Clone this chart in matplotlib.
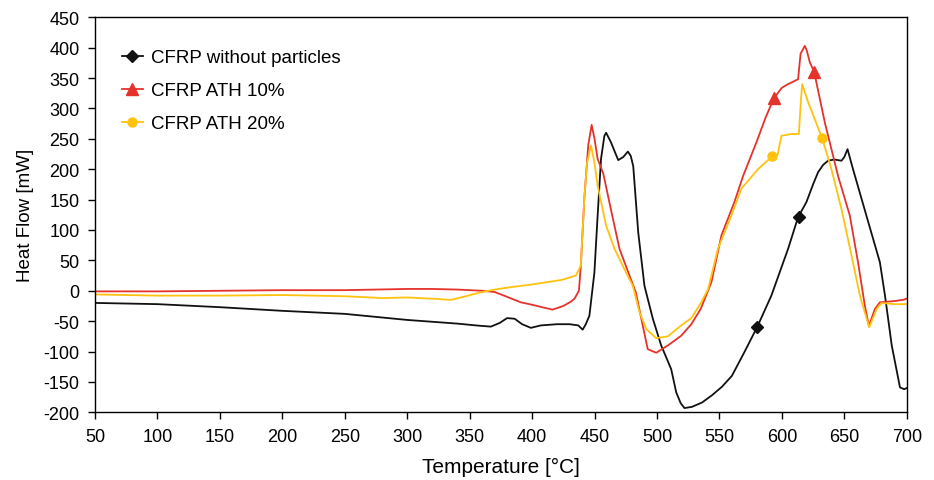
import matplotlib
matplotlib.use('Agg')
import matplotlib.pyplot as plt
from matplotlib.ticker import MultipleLocator

plt.rcParams['font.family'] = ['Liberation Sans', 'DejaVu Sans']
plt.rcParams['axes.unicode_minus'] = False

# CFRP without particles
temp_black = [50, 100, 150, 200, 250, 280, 300, 320, 340, 355, 367, 374, 380, 386, 392,
              399, 407, 420, 430, 437, 440.5, 443, 445.9, 449.9, 452.5, 455.2, 457.9,
              459.3, 463, 469, 473, 476.7, 479, 481, 485, 490, 496.7, 503.4, 511.4,
              515.4, 519, 522, 528, 536, 544, 552, 560, 570, 580.4, 591.6, 605, 613,
              619.7, 625, 629, 633, 637, 642, 647.8, 650, 652.6, 657, 667.8, 678.5,
              682.6, 688, 694.6, 698, 700]
flow_black = [-20, -22, -27, -33, -38, -44, -48, -51, -54, -57, -59, -53, -45, -46, -55,
              -61, -57, -55, -55, -57, -64, -55, -41, 30, 124, 217, 255,
              260, 245, 215, 220, 229, 222, 205, 96, 8, -46, -90, -129,
              -167, -185, -193, -191, -184, -172, -158, -140, -101, -59, -8, 69, 121,
              146, 175, 195, 207, 214, 216, 214, 220, 233, 200, 123, 47,
              -8, -90, -159, -162, -160]

# CFRP ATH 10%
temp_red = [50, 100, 150, 200, 250, 300, 320, 340, 360, 370, 380, 391, 400, 410, 416.5,
            425, 431, 434, 437.5, 439, 441.8, 445, 447.7, 450, 452.5, 457, 463, 470,
            478, 483, 488.6, 492.6, 499.4, 508.7, 519.4, 527.5, 535, 543.6, 551.6, 562,
            569, 579.6, 587, 593.7, 600, 605, 613, 615, 618.4, 620, 622.4, 625.9, 634.4,
            645, 654.4, 661, 666.5, 669.7, 674.5, 678.5, 690, 697, 700]
flow_red = [-1, -1, 0, 1, 1, 3, 3, 2, 0, -2, -10, -19, -23, -28, -31,
            -25, -18, -13, 0, 40, 151, 240, 273, 250, 217, 193, 135, 69,
            25, -2, -57, -96, -102, -90, -74, -55, -30, 14, 91, 146,
            189, 244, 285, 317, 334, 340, 348, 390, 403, 395, 376, 360, 277,
            189, 124, 47, -25, -58, -30, -19, -17, -15, -13]

# CFRP ATH 20%
temp_yel = [50, 100, 150, 200, 250, 280, 300, 320, 335, 345, 358, 370, 383, 395, 405,
            424, 435, 439, 441.8, 444, 447.2, 450, 452.5, 459.3, 466, 475.3, 480.7,
            486, 491.4, 499.4, 508.7, 519.4, 527.5, 535.5, 541, 548.8, 559.6, 567.6,
            580.9, 592.2, 596.5, 599.7, 607.7, 613.6, 615.5, 616.3, 621.1, 632.3,
            639.7, 647.8, 655.8, 662.5, 670, 675.9, 679.9, 690, 700]
flow_yel = [-6, -8, -8, -7, -9, -12, -11, -13, -15, -10, -3, 2, 6, 9, 12,
            18, 25, 41, 151, 210, 239, 210, 173, 107, 69, 30, 8,
            -35, -63, -78, -75, -57, -45, -19, 3, 69, 124, 168,
            200, 221, 223, 255, 258, 258, 320, 340, 310, 251,
            200, 134, 58, -8, -60, -30, -20, -22, -22]

# marker positions on each curve
mk_black_t = [580.4, 614]
mk_black_v = [-59, 121]
mk_red_t = [593.7, 625.9]
mk_red_v = [317, 360]
mk_yel_t = [592.2, 632.3]
mk_yel_v = [221, 251]

labels = ['CFRP without particles', 'CFRP ATH 10%', 'CFRP ATH 20%']

c_black = '#111111'
c_red = '#E5322B'
c_yel = '#FFC20E'

fig = plt.figure(figsize=(9.34, 4.81), dpi=100)
ax = fig.add_axes([0.1017, 0.1407, 0.8691, 0.8213])

ax.plot(temp_black, flow_black, color=c_black, lw=1.3)
ax.plot(temp_red, flow_red, color=c_red, lw=1.3)
ax.plot(temp_yel, flow_yel, color=c_yel, lw=1.3)
ax.plot(mk_black_t, mk_black_v, ls='none', marker='D', ms=6, color=c_black)
ax.plot(mk_red_t, mk_red_v, ls='none', marker='^', ms=8, color=c_red)
ax.plot(mk_yel_t, mk_yel_v, ls='none', marker='o', ms=6.5, color=c_yel)

# legend handles
h1, = ax.plot([], [], color=c_black, lw=1.3, marker='D', ms=6)
h2, = ax.plot([], [], color=c_red, lw=1.3, marker='^', ms=8)
h3, = ax.plot([], [], color=c_yel, lw=1.3, marker='o', ms=6.5)
ax.legend([h1, h2, h3], labels,
          loc='upper left', bbox_to_anchor=(0.012, 0.962), frameon=False,
          fontsize=13.5, handlelength=1.15, handletextpad=0.4, labelspacing=0.85)

ax.set_xlim(50, 700)
ax.set_ylim(-200, 450)
ax.xaxis.set_major_locator(MultipleLocator(50))
ax.yaxis.set_major_locator(MultipleLocator(50))
ax.tick_params(direction='out', length=5, labelsize=13, width=1, pad=6)
ax.set_xlabel('Temperature [°C]', fontsize=15, labelpad=9)
ax.set_ylabel('Heat Flow [mW]', fontsize=13.5, labelpad=7)
for s in ax.spines.values():
    s.set_linewidth(1.0)

plt.savefig('out.png', dpi=100)
plt.close(fig)
